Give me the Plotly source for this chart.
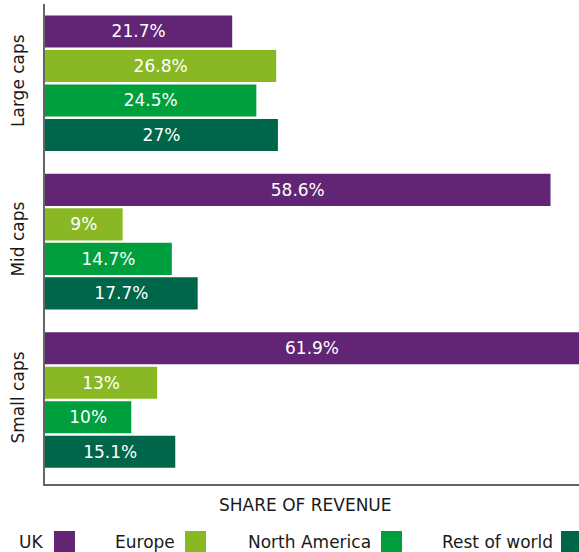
import plotly.graph_objects as go

categories = ["Large caps", "Mid caps", "Small caps"]
series_names = ["UK", "Europe", "North America", "Rest of world"]
uk = [21.7, 58.6, 61.9]
europe = [26.8, 9, 13]
north_america = [24.5, 14.7, 10]
rest_of_world = [27, 17.7, 15.1]
colors = ["#622474", "#8AB825", "#009F3D", "#00664A"]

values = [uk, europe, north_america, rest_of_world]
FONT = "DejaVu Sans, Arial, sans-serif"
TXT = "#1a1a1a"

fig = go.Figure()
for name, vals, col in zip(series_names, values, colors):
    fig.add_trace(go.Bar(
        y=categories, x=vals, name=name, orientation="h",
        marker=dict(color=col, line=dict(width=0)),
        text=[f"{v:g}%" for v in vals], textposition="inside",
        insidetextanchor="middle", textangle=0, constraintext="none",
        textfont=dict(color="white", size=17, family=FONT),
        showlegend=False,
    ))

fig.update_layout(
    width=579, height=552,
    margin=dict(l=45, r=0, t=4, b=68),
    barmode="group", bargap=0.129, bargroupgap=0.07,
    plot_bgcolor="white", paper_bgcolor="white",
    font=dict(family=FONT, size=17, color=TXT),
    xaxis=dict(range=[0, 61.9], showgrid=False, zeroline=False,
               showticklabels=False, ticks="", showline=True,
               linecolor="#666666", linewidth=2, automargin=False),
    yaxis=dict(type="category", range=[2.53, -0.5], showgrid=False,
               zeroline=False, ticks="", showline=True, automargin=False,
               linecolor="#666666", linewidth=2, tickangle=-90,
               ticklabelstandoff=12,
               tickfont=dict(size=17, color=TXT, family=FONT)),
)

plot_w, plot_h = 579 - 45, 552 - 4 - 68
bottom = 552 - 68

# x-axis title
fig.add_annotation(
    xref="paper", yref="paper", x=(305.5 - 45) / plot_w,
    y=(bottom - 505) / plot_h, xanchor="center", yanchor="middle",
    showarrow=False, text="SHARE OF REVENUE",
    font=dict(size=17, color=TXT, family=FONT),
)

# Legend: label followed by colour square, drawn in paper coordinates
legend_text_x = [17, 113, 246, 440]
legend_sq_x = [54, 185, 381, 561]
for name, col, tx, sx in zip(series_names, colors, legend_text_x, legend_sq_x):
    fig.add_annotation(
        xref="paper", yref="paper",
        x=(tx - 45) / plot_w, y=(bottom - 542) / plot_h,
        xanchor="left", yanchor="middle", showarrow=False,
        text=name, font=dict(size=17, color=TXT, family=FONT),
    )
    fig.add_shape(
        type="rect", xref="paper", yref="paper",
        x0=(sx - 45) / plot_w, x1=(sx + 21 - 45) / plot_w,
        y0=(bottom - 553) / plot_h, y1=(bottom - 531) / plot_h,
        fillcolor=col, line=dict(width=0), layer="above",
    )

fig.write_html("out.html", config={"displayModeBar": False})
with open("out.html", encoding="utf-8") as f:
    html = f.read()
html = html.replace("<head>", "<head><style>html,body{margin:0;padding:0;overflow:hidden;}</style>", 1)
with open("out.html", "w", encoding="utf-8") as f:
    f.write(html)
